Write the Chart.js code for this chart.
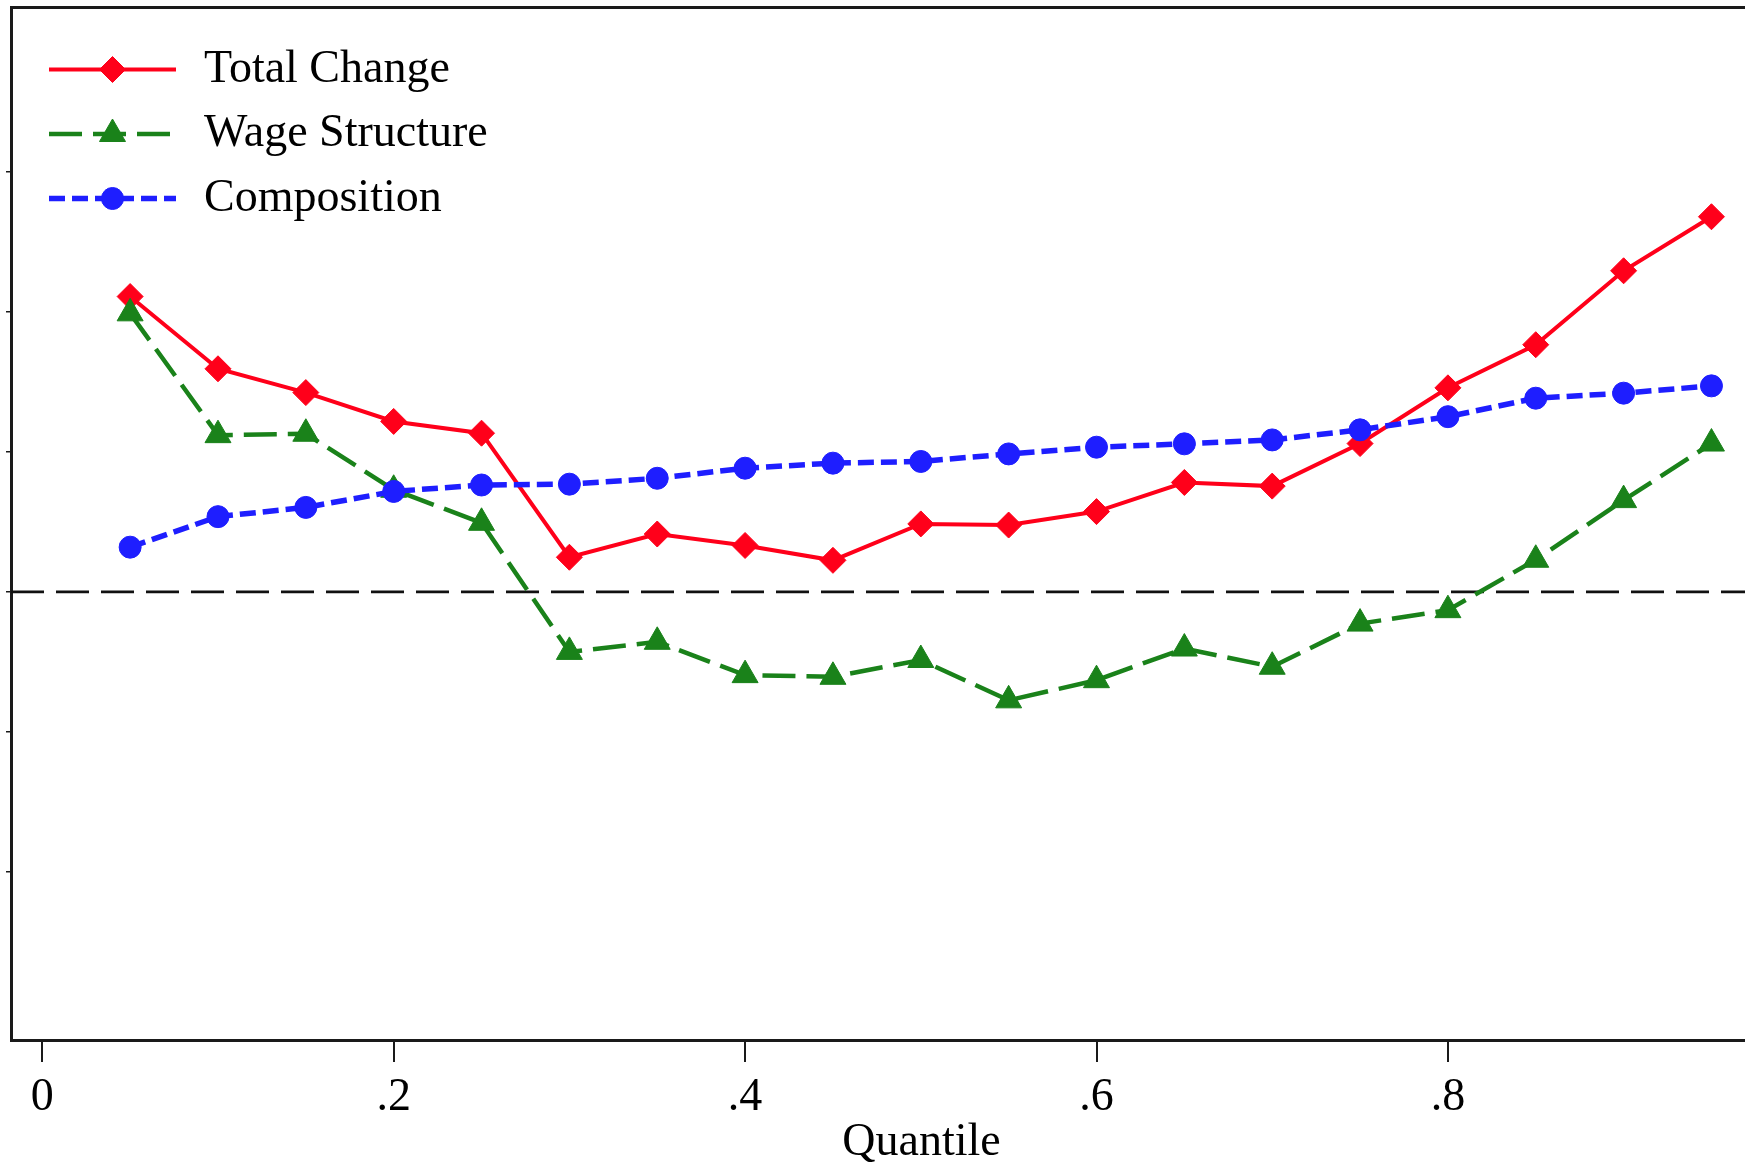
<!DOCTYPE html>
<html>
<head>
<meta charset="utf-8">
<script src="https://cdn.jsdelivr.net/npm/chart.js@4.4.0/dist/chart.umd.min.js"></script>
<style>
  html, body { margin: 0; padding: 0; background: #ffffff; overflow: hidden; }
  #wrap { width: 1745px; height: 1164px; overflow: hidden; position: relative; background: #fff; }
  canvas { display: block; }
</style>
</head>
<body>
<div id="wrap"><canvas id="c" width="1832" height="1164"></canvas></div>
<script>
// ---------------- data ----------------
const quantiles = [0.05, 0.10, 0.15, 0.20, 0.25, 0.30, 0.35, 0.40, 0.45, 0.50,
                   0.55, 0.60, 0.65, 0.70, 0.75, 0.80, 0.85, 0.90, 0.95];
const totalChange = [0.1055, 0.0797, 0.0712, 0.0609, 0.0567, 0.0124, 0.0207, 0.0166, 0.0113, 0.0243,
                     0.0239, 0.0287, 0.0391, 0.0378, 0.0530, 0.0729, 0.0883, 0.1147, 0.1340];
const wageStructure = [0.0995, 0.0560, 0.0565, 0.0365, 0.0247, -0.0214, -0.0178, -0.0297, -0.0303, -0.0243,
                       -0.0387, -0.0315, -0.0202, -0.0267, -0.0113, -0.0065, 0.0115, 0.0328, 0.0530];
const composition = [0.0160, 0.0269, 0.0302, 0.0359, 0.0382, 0.0385, 0.0406, 0.0442, 0.0460, 0.0466,
                     0.0493, 0.0517, 0.0529, 0.0543, 0.0579, 0.0626, 0.0692, 0.0710, 0.0736];
const seriesNames = ['Total Change', 'Wage Structure', 'Composition'];
const xTicks = [0, 0.2, 0.4, 0.6, 0.8];
const xTickLabels = ['0', '.2', '.4', '.6', '.8'];
const yTicks = [-0.10, -0.05, 0, 0.05, 0.10, 0.15];
const xTitle = 'Quantile';

// ---------------- styling ----------------
const FONT = "'Liberation Serif', 'Times New Roman', Times, serif";
const RED = '#FF001A', GREEN = '#1A821A', BLUE = '#1E1EFF', AXIS = '#1a1a1a';
const X_MIN = -0.0178, X_MAX = 1.0186, Y_MIN = -0.16, Y_MAX = 0.2089;

const toPoints = arr => quantiles.map((q, i) => ({ x: q, y: arr[i] }));

const zeroLine = {
  id: 'zeroLine',
  beforeDatasetsDraw(chart) {
    const { ctx, chartArea, scales } = chart;
    const y = scales.y.getPixelForValue(0);
    ctx.save();
    ctx.strokeStyle = '#111';
    ctx.lineWidth = 2.7;
    ctx.setLineDash([33, 12]);
    ctx.beginPath();
    ctx.moveTo(chartArea.left, y);
    ctx.lineTo(chartArea.right, y);
    ctx.stroke();
    ctx.restore();
  }
};

function marker(ctx, style, r, bw, x, y) {
  if (Chart.helpers && Chart.helpers.drawPoint) {
    Chart.helpers.drawPoint(ctx, { pointStyle: style, radius: r, borderWidth: bw, rotation: 0 }, x, y);
    return;
  }
  ctx.beginPath();
  if (style === 'circle') ctx.arc(x, y, r, 0, Math.PI * 2);
  else if (style === 'rectRot') { ctx.moveTo(x - r, y); ctx.lineTo(x, y - r); ctx.lineTo(x + r, y); ctx.lineTo(x, y + r); ctx.closePath(); }
  else if (style === 'triangle') { ctx.moveTo(x, y - r); ctx.lineTo(x + 0.866 * r, y + 0.5 * r); ctx.lineTo(x - 0.866 * r, y + 0.5 * r); ctx.closePath(); }
  ctx.fill(); if (bw > 0) ctx.stroke();
}

const innerLegend = {
  id: 'innerLegend',
  afterDraw(chart) {
    const { ctx, chartArea } = chart;
    const x0 = chartArea.left + 38, len = 127, tx = chartArea.left + 193;
    const top = chartArea.top + 62.5, step = 64.5;
    const ordered = chart.data.datasets.slice().sort((a, b) => a.legendIndex - b.legendIndex);
    ordered.forEach((ds, i) => {
      const y = top + i * step;
      ctx.save();
      ctx.strokeStyle = ds.borderColor;
      ctx.lineWidth = ds.borderWidth;
      ctx.setLineDash(ds.borderDash || []);
      ctx.beginPath();
      ctx.moveTo(x0, y);
      ctx.lineTo(x0 + len, y);
      ctx.stroke();
      ctx.setLineDash([]);
      ctx.fillStyle = ds.pointBackgroundColor;
      ctx.strokeStyle = ds.pointBorderColor;
      ctx.lineWidth = ds.pointBorderWidth;
      marker(ctx, ds.pointStyle, ds.pointRadius, ds.pointBorderWidth, x0 + len / 2, y);
      ctx.fillStyle = '#000';
      ctx.font = "46px " + FONT;
      ctx.textAlign = 'left';
      ctx.textBaseline = 'middle';
      ctx.fillText(ds.label, tx, y);
      ctx.restore();
    });
  }
};

new Chart(document.getElementById('c'), {
  type: 'line',
  data: {
    datasets: [
      { label: seriesNames[0], legendIndex: 0, data: toPoints(totalChange), order: 3,
        borderColor: RED, borderWidth: 4, pointStyle: 'rectRot', pointRadius: 13,
        pointBackgroundColor: RED, pointBorderColor: RED, pointBorderWidth: 1, tension: 0 },
      { label: seriesNames[1], legendIndex: 1, data: toPoints(wageStructure), order: 2,
        borderColor: GREEN, borderWidth: 4.5, borderDash: [33, 11], pointStyle: 'triangle', pointRadius: 15,
        pointBackgroundColor: GREEN, pointBorderColor: GREEN, pointBorderWidth: 1, tension: 0 },
      { label: seriesNames[2], legendIndex: 2, data: toPoints(composition), order: 1,
        borderColor: BLUE, borderWidth: 5.5, borderDash: [16, 7], pointStyle: 'circle', pointRadius: 11,
        pointBackgroundColor: BLUE, pointBorderColor: BLUE, pointBorderWidth: 1, tension: 0 }
    ]
  },
  options: {
    responsive: false,
    animation: false,
    layout: { padding: 0, autoPadding: false },
    plugins: { legend: { display: false }, tooltip: { enabled: false }, title: { display: false } },
    scales: {
      x: {
        type: 'linear', position: 'bottom', min: X_MIN, max: X_MAX,
        afterFit(s) { s.height = 124; },
        afterBuildTicks(s) { s.ticks = xTicks.map(v => ({ value: v })); },
        ticks: { autoSkip: false, maxRotation: 0, minRotation: 0, padding: 8, color: '#000',
                 font: { family: FONT, size: 46 }, callback: (v, i) => xTickLabels[i] },
        grid: { drawOnChartArea: false, drawTicks: true, tickLength: 22, lineWidth: 2, color: AXIS },
        border: { display: true, width: 3, color: AXIS },
        title: { display: true, text: xTitle, color: '#000',
                 font: { family: FONT, size: 46, lineHeight: 1 }, padding: { top: 0, bottom: -2 } }
      },
      xTop: {
        type: 'linear', position: 'top', min: X_MIN, max: X_MAX,
        afterFit(s) { s.height = 7; },
        afterBuildTicks(s) { s.ticks = xTicks.map(v => ({ value: v })); },
        ticks: { display: false },
        grid: { display: false, drawTicks: false },
        border: { display: true, width: 3, color: AXIS }
      },
      y: {
        type: 'linear', position: 'left', min: Y_MIN, max: Y_MAX,
        afterFit(s) { s.width = 11; },
        afterBuildTicks(s) { s.ticks = yTicks.map(v => ({ value: v })); },
        ticks: { display: false },
        grid: { drawOnChartArea: false, drawTicks: true, tickLength: 5, lineWidth: 1.5, color: AXIS },
        border: { display: true, width: 3, color: AXIS }
      }
    }
  },
  plugins: [zeroLine, innerLegend]
});
</script>
</body>
</html>
